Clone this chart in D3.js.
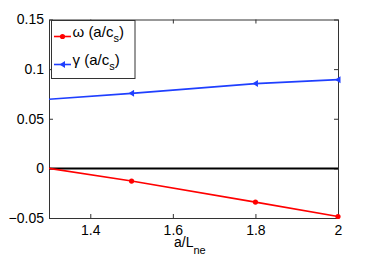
<!DOCTYPE html>
<html>
<head>
<meta charset="utf-8">
<script src="https://cdn.jsdelivr.net/npm/d3@7"></script>
<style>
  body { margin: 0; background: #fff; }
  svg text { font-family: "Liberation Sans", Arial, sans-serif; }
</style>
</head>
<body>
<svg id="chart"></svg>
<script>
const width = 374;
const height = 258;
const margin = { top: 19.5, right: 36, bottom: 40, left: 49 };

// data
const aLne = [1.2, 1.5, 1.8, 2.0];
const omega = [0.0064, -0.0128, -0.0340, -0.0485];
const gamma = [0.0666, 0.0756, 0.0854, 0.0894];
const xTicks = [1.4, 1.6, 1.8, 2];
const yTicks = [-0.05, 0, 0.05, 0.1, 0.15];
const yTickLabels = ["\u22120.05", "0", "0.05", "0.1", "0.15"];

const svg = d3.select("#chart").attr("width", width).attr("height", height);

const x = d3.scaleLinear().domain([1.3, 2]).range([margin.left, width - margin.right]);
const y = d3.scaleLinear().domain([-0.05, 0.15]).range([height - margin.bottom, margin.top]);

svg.append("clipPath").attr("id", "clip")
  .append("rect")
  .attr("x", margin.left).attr("y", margin.top - 4)
  .attr("width", width - margin.right - margin.left + 5)
  .attr("height", height - margin.bottom - margin.top + 8);

const axisColor = "#333";

// axes with inward ticks
const xAxis = d3.axisBottom(x).tickValues(xTicks).tickSize(-4).tickSizeOuter(0)
  .tickFormat(d3.format("~g"));
const gx = svg.append("g")
  .attr("transform", "translate(0," + (height - margin.bottom) + ")")
  .call(xAxis);
const gxTop = svg.append("g")
  .attr("transform", "translate(0," + margin.top + ")")
  .call(d3.axisTop(x).tickValues(xTicks).tickSize(-4).tickSizeOuter(0).tickFormat(""));

const yAxis = d3.axisLeft(y).tickValues(yTicks).tickSize(-4).tickSizeOuter(0)
  .tickFormat((d, i) => yTickLabels[i]);
const gy = svg.append("g")
  .attr("transform", "translate(" + margin.left + ",0)")
  .call(yAxis);
const gyRight = svg.append("g")
  .attr("transform", "translate(" + (width - margin.right) + ",0)")
  .call(d3.axisRight(y).tickValues(yTicks).tickSize(-4).tickSizeOuter(0).tickFormat(""));

[gx, gxTop, gy, gyRight].forEach((g) => {
  g.select(".domain").attr("stroke", axisColor);
  g.selectAll(".tick line").attr("stroke", axisColor);
  g.selectAll(".tick text")
    .attr("fill", "#000")
    .style("font-size", "14px");
});
gx.selectAll(".tick text").attr("dy", "1.0em");
gy.selectAll(".tick text").attr("x", -5);

// zero line
svg.append("line")
  .attr("x1", x(1.3)).attr("x2", x(2))
  .attr("y1", y(0)).attr("y2", y(0))
  .attr("stroke", "#000").attr("stroke-width", 2);

const line = d3.line().x((d, i) => x(aLne[i])).y((d) => y(d));
const plot = svg.append("g").attr("clip-path", "url(#clip)");

const red = "#ff0000";
const blue = "#1f3fff";

plot.append("path").datum(omega)
  .attr("d", line).attr("fill", "none")
  .attr("stroke", red).attr("stroke-width", 1.6);
plot.append("path").datum(gamma)
  .attr("d", line).attr("fill", "none")
  .attr("stroke", blue).attr("stroke-width", 1.6);

plot.selectAll("circle.om")
  .data(omega)
  .enter()
  .append("circle")
  .attr("class", "om")
  .attr("cx", (d, i) => x(aLne[i]))
  .attr("cy", (d) => y(d))
  .attr("r", 2.6)
  .attr("fill", red);

const tri = "M-3,0L2.5,-3.5L2.5,3.5Z";
plot.selectAll("path.gm")
  .data(gamma)
  .enter()
  .append("path")
  .attr("class", "gm")
  .attr("d", tri)
  .attr("transform", (d, i) => "translate(" + x(aLne[i]) + "," + y(d) + ")")
  .attr("fill", blue);

// x label
const xl = svg.append("text")
  .attr("x", 174).attr("y", 246.5)
  .style("font-size", "14px");
xl.append("tspan").text("a/L");
xl.append("tspan").attr("dy", 7).style("font-size", "11px").text("ne");

// legend
const lg = svg.append("g");
lg.append("rect")
  .attr("x", 51.5).attr("y", 20.5)
  .attr("width", 83.5).attr("height", 58)
  .attr("fill", "#fff").attr("stroke", axisColor);

const entries = [
  { sym: "\u03c9", color: red, y: 36.5, mark: "circle" },
  { sym: "\u03b3", color: blue, y: 64.5, mark: "tri" }
];
entries.forEach((e) => {
  lg.append("line")
    .attr("x1", 54).attr("x2", 71)
    .attr("y1", e.y).attr("y2", e.y)
    .attr("stroke", e.color).attr("stroke-width", 1.6);
  if (e.mark === "circle") {
    lg.append("circle").attr("cx", 62.5).attr("cy", e.y).attr("r", 2.6).attr("fill", e.color);
  } else {
    lg.append("path").attr("d", tri)
      .attr("transform", "translate(62.5," + e.y + ")").attr("fill", e.color);
  }
  const t = lg.append("text")
    .attr("x", 72.5).attr("y", e.y)
    .style("font-size", "15px");
  t.append("tspan").text(e.sym + " (a/c");
  t.append("tspan").attr("dy", 5).style("font-size", "11px").text("s");
  t.append("tspan").attr("dy", -5).text(")");
});
</script>
</body>
</html>
